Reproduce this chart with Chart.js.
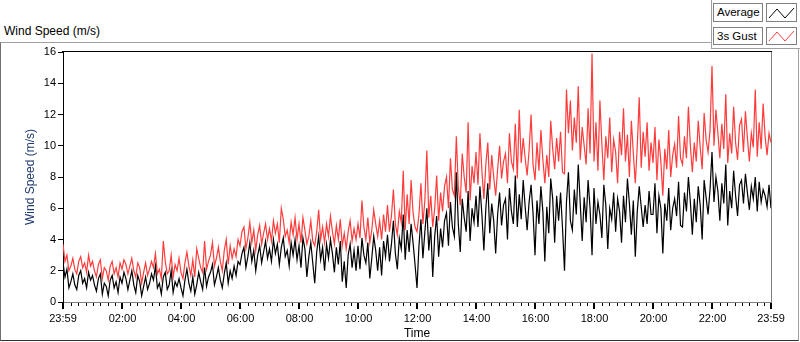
<!DOCTYPE html>
<html>
<head>
<meta charset="utf-8">
<script src="https://cdn.jsdelivr.net/npm/chart.js@4.4.1/dist/chart.umd.min.js"></script>
<style>
  body { margin: 0; background: #fff; font-family: "Liberation Sans", Arial, sans-serif; }
  #wrap { position: relative; width: 800px; height: 342px; overflow: hidden; }
  #panel { position: absolute; left: 0; top: 42px; width: 799px; height: 299px; box-sizing: border-box;
           border-top: 1px solid #a0a0a0; border-left: 1px solid #707070; border-bottom: 1px solid #303030; border-right: 1px solid #a0a0a0; }
  #title { position: absolute; left: 4px; top: 24px; font-size: 12px; line-height: 14px; color: #000; }
  #legendBg { position: absolute; left: 711px; top: 0; width: 89px; height: 49px; box-sizing: border-box; background: #fff;
              border-left: 1px solid #a0a0a0; border-bottom: 1px solid #a0a0a0; }
  .lbl { position: absolute; left: 713px; width: 50px; box-sizing: border-box; border: 1px solid #808080; background: #fff;
         font-size: 11.5px; padding-left: 3px; color: #000; }
  .sw { position: absolute; left: 766px; width: 31px; box-sizing: border-box; border: 1px solid #808080; background: #fff; }
  canvas { position: absolute; left: 0; top: 0; }
</style>
</head>
<body>
<div id="wrap">
  <div id="panel"></div>
  <div id="title">Wind Speed (m/s)</div>
  <canvas id="windChart" width="800" height="342"></canvas>
  <div id="legendBg"></div>
  <div class="lbl" style="top:3px;height:19px;line-height:17px;">Average</div>
  <div class="sw" style="top:3px;height:19px;">
    <svg width="29" height="17"><polyline points="2,14 10,5 18,14 27,4" fill="none" stroke="#000" stroke-width="1"/></svg>
  </div>
  <div class="lbl" style="top:27px;height:18px;line-height:16px;">3s Gust</div>
  <div class="sw" style="top:27px;height:18px;">
    <svg width="29" height="16"><polyline points="2,13 10,4 18,13 27,3" fill="none" stroke="#ff4040" stroke-width="1"/></svg>
  </div>
</div>
<script>
// one sample every 4 minutes, starting at 23:59 (15 per hour per row)
const stepMinutes = 4;
const seriesNames = ['Average', '3s Gust'];

const averageSpeed = [
  2.5, 1.6, 2.1, 0.9, 1.3, 1.8, 1.1, 0.8, 1.7, 2.0, 1.2, 1.5, 0.9, 1.9, 1.4,
  1.7, 1.1, 0.7, 1.5, 1.8, 0.5, 1.2, 1.0, 0.4, 1.4, 1.7, 0.9, 1.3, 0.6, 1.6,
  1.2, 1.9, 1.5, 0.8, 1.4, 2.0, 1.1, 0.6, 1.7, 1.3, 0.4, 1.0, 1.6, 0.8, 1.2,
  1.8, 1.4, 2.3, 0.9, 1.2, 0.5, 1.6, 1.9, 0.8, 1.1, 2.0, 0.6, 1.3, 1.0, 1.5,
  0.9, 0.4, 1.4, 2.1, 1.2, 0.7, 1.6, 0.5, 1.1, 1.9, 1.3, 0.8, 2.2, 1.0, 1.6,
  1.9, 2.4, 1.1, 1.6, 2.2, 1.4, 0.9, 1.8, 2.5, 1.2, 2.0, 1.5, 2.3, 1.7, 2.6,
  2.4, 3.1, 3.5, 2.2, 2.9, 3.8, 2.6, 3.3, 2.0, 3.0, 3.6, 2.5, 3.2, 3.9, 2.8,
  3.4, 2.6, 4.0, 3.1, 3.7, 2.4, 3.5, 4.1, 2.9, 3.3, 2.3, 3.8, 3.0, 4.0, 2.7,
  3.6, 2.2, 4.1, 3.4, 1.6, 2.9, 3.8, 2.5, 1.2, 3.2, 4.2, 2.7, 3.5, 2.0, 3.7,
  2.8, 4.0, 3.1, 1.9, 3.5, 2.4, 3.9, 1.3, 2.6, 0.9, 3.0, 3.7, 2.2, 3.3, 2.0,
  3.6, 2.1, 4.1, 3.0, 2.5, 3.8, 1.5, 2.8, 4.2, 3.3, 2.0, 3.5, 1.7, 3.9, 2.9,
  4.3, 2.6, 3.7, 5.2, 3.1, 2.1, 4.1, 3.4, 5.6, 2.7, 4.6, 3.2, 5.0, 3.8, 2.4,
  0.9, 3.6, 5.3, 2.8, 4.5, 6.0, 3.3, 4.8, 1.6, 4.2, 5.5, 2.9, 4.7, 3.5, 5.2,
  5.7, 3.6, 6.4, 4.8, 4.2, 8.3, 5.0, 3.2, 6.6, 5.4, 4.5, 7.1, 3.9, 6.0, 5.1,
  6.8, 4.8, 7.4, 5.6, 3.3, 6.0, 7.6, 4.4, 6.3, 5.2, 3.1, 5.6, 7.0, 4.9, 6.2,
  6.6, 4.0, 7.3, 5.8, 5.0, 8.1, 4.8, 6.9, 5.3, 7.8, 6.1, 4.6, 6.4, 7.5, 5.7,
  3.0, 6.5, 5.0, 7.4, 5.8, 2.6, 6.1, 4.4, 7.9, 6.6, 3.8, 6.8, 5.2, 7.0, 4.7,
  2.0, 6.4, 8.3, 5.2, 4.6, 7.2, 5.6, 8.8, 6.3, 3.9, 6.7, 5.1, 7.8, 6.0, 3.0,
  7.3, 5.0, 6.4, 5.6, 4.1, 7.5, 6.2, 3.4, 6.0, 5.3, 7.0, 4.5, 6.6, 5.8, 3.8,
  6.8, 5.1, 7.9, 6.3, 4.3, 6.5, 2.9, 5.8, 7.4, 6.1, 4.8, 6.2, 5.0, 7.1, 5.6,
  5.6, 7.6, 4.4, 6.8, 6.0, 3.1, 6.3, 5.2, 7.3, 4.6, 6.0, 6.6, 5.5, 7.7, 4.9,
  4.8, 7.0, 5.8, 8.0, 6.4, 4.3, 6.6, 5.1, 7.4, 6.2, 4.0, 7.8, 6.7, 5.6, 7.2,
  9.6, 6.4, 8.0, 7.1, 5.2, 7.6, 6.3, 8.8, 4.9, 7.1, 6.0, 8.4, 6.8, 5.5, 7.5,
  7.8, 6.3, 8.2, 7.0, 5.9, 7.4, 6.6, 8.0, 5.8, 7.7, 6.4, 7.2, 6.8, 6.1, 7.5,
  6.0
];

const gustSpeed = [
  3.7, 2.6, 3.0, 2.0, 2.3, 2.8, 2.1, 1.8, 2.6, 2.9, 2.2, 2.5, 1.9, 3.0, 2.3,
  2.6, 2.0, 1.6, 2.4, 2.7, 1.5, 2.2, 2.0, 1.4, 2.3, 2.6, 1.8, 2.2, 1.6, 2.5,
  2.1, 2.7, 2.4, 1.8, 2.3, 2.8, 2.0, 1.6, 2.5, 2.2, 1.2, 1.9, 2.5, 1.7, 2.1,
  2.6, 2.2, 3.1, 1.8, 2.1, 1.5, 3.9, 2.6, 1.8, 2.0, 3.0, 1.6, 2.4, 2.0, 2.8,
  1.9, 1.5, 2.5, 3.2, 2.3, 1.7, 2.7, 1.6, 3.4, 2.8, 2.2, 1.9, 3.9, 2.1, 2.6,
  3.0, 3.8, 2.3, 2.8, 3.5, 2.6, 2.0, 3.3, 4.0, 2.4, 3.6, 2.8, 3.4, 2.9, 4.0,
  3.6, 4.5, 4.8, 3.4, 4.1, 5.1, 3.8, 4.6, 3.3, 4.3, 4.9, 3.7, 4.4, 5.0, 4.0,
  4.7, 3.9, 5.2, 4.4, 5.0, 3.8, 6.0, 5.3, 4.2, 4.6, 3.8, 5.1, 4.3, 5.4, 4.0,
  5.0, 3.8, 5.4, 4.6, 3.7, 4.2, 5.2, 3.9, 3.6, 4.5, 5.9, 4.0, 4.8, 3.8, 5.0,
  4.2, 5.5, 4.5, 3.7, 4.9, 4.0, 5.3, 3.6, 4.4, 3.4, 4.5, 5.2, 3.9, 4.7, 4.0,
  5.0, 4.1, 6.5, 4.8, 4.0, 5.4, 3.8, 4.6, 5.9, 5.0, 4.2, 5.2, 4.0, 5.6, 4.5,
  6.2, 4.5, 5.5, 7.2, 5.0, 4.3, 5.8, 5.1, 8.4, 4.6, 6.9, 5.0, 7.8, 5.7, 4.8,
  4.5, 5.6, 7.6, 5.0, 6.5, 9.7, 5.4, 6.8, 4.8, 6.0, 8.1, 5.2, 7.0, 5.8, 7.4,
  8.0, 6.0, 9.2, 7.2, 6.8, 10.6, 7.3, 6.2, 9.5, 8.0, 7.0, 11.5, 6.5, 8.7, 7.6,
  9.6, 7.5, 10.8, 8.4, 6.6, 8.8, 10.2, 7.2, 9.4, 8.0, 6.8, 8.5, 10.0, 7.9, 9.0,
  9.5, 7.6, 10.8, 9.0, 8.5, 11.4, 7.9, 12.3, 8.9, 10.5, 9.2, 8.1, 9.7, 12.0, 8.8,
  7.8, 10.2, 8.4, 11.0, 9.1, 7.6, 9.4, 8.0, 11.6, 9.8, 8.5, 10.5, 9.0, 10.9, 8.3,
  8.2, 13.6, 10.8, 12.9, 9.7, 11.8, 10.2, 13.8, 9.1, 11.2, 10.0, 8.8, 12.4, 9.5, 15.9,
  9.0, 11.5, 8.4, 12.9, 10.1, 7.8, 10.6, 9.2, 11.8, 8.3, 10.4, 9.6, 7.6, 10.9, 9.4,
  12.4, 9.0, 10.7, 8.0, 11.6, 9.5, 7.6, 10.0, 13.1, 8.6, 10.9, 9.3, 11.5, 8.4, 10.2,
  8.9, 11.2, 7.8, 10.4, 9.0, 6.8, 9.8, 8.5, 11.0, 8.0, 9.4, 10.1, 8.6, 11.9, 9.2,
  8.8, 10.6, 9.2, 12.5, 10.0, 8.3, 10.2, 9.0, 11.6, 9.9, 8.5, 12.1, 10.4, 9.6, 11.0,
  15.1, 10.0, 12.3, 10.8, 9.2, 11.4, 9.8, 13.3, 8.9, 10.8, 9.5, 12.5, 10.2, 9.1, 11.3,
  11.7, 9.6, 12.2, 10.5, 9.0, 10.8, 9.9, 13.6, 9.3, 11.5, 9.8, 12.7, 10.6, 9.4, 10.8,
  10.2
];

const yTicks = [0, 2, 4, 6, 8, 10, 12, 14, 16];
const startClock = 23 * 60 + 59;   // 23:59

function clockLabel(t) {
  const m = (startClock + t) % 1440;
  const hh = String(Math.floor(m / 60)).padStart(2, '0');
  const mm = String(m % 60).padStart(2, '0');
  return hh + ':' + mm;
}
function isMajor(t) {
  return t === 0 || t === 1440 || (t - 1) % 120 === 0;
}

const toPoints = arr => arr.map((v, i) => ({ x: i * stepMinutes, y: v }));

// frame lines on top/right of the plot and x tick marks (long = labelled)
const framePlugin = {
  id: 'frame',
  afterDraw(chart) {
    const { ctx, chartArea: a, scales: { x } } = chart;
    ctx.save();
    ctx.lineWidth = 1;
    ctx.strokeStyle = '#000';
    ctx.beginPath();
    ctx.moveTo(a.left - 1, a.top - 0.5);
    ctx.lineTo(a.right + 1, a.top - 0.5);
    ctx.stroke();
    ctx.strokeStyle = '#808080';
    ctx.beginPath();
    ctx.moveTo(a.right + 0.5, a.top);
    ctx.lineTo(a.right + 0.5, a.bottom + 1);
    ctx.stroke();
    ctx.strokeStyle = '#000';
    x.ticks.forEach(t => {
      const px = Math.round(x.getPixelForValue(t.value));
      const major = isMajor(t.value);
      ctx.lineWidth = major ? 2 : 1;
      ctx.beginPath();
      ctx.moveTo(px + (major ? 0 : 0.5), a.bottom + 1);
      ctx.lineTo(px + (major ? 0 : 0.5), a.bottom + (major ? 7 : 4));
      ctx.stroke();
    });
    ctx.restore();
  }
};

new Chart(document.getElementById('windChart'), {
  type: 'line',
  data: {
    datasets: [
      { label: seriesNames[0], data: toPoints(averageSpeed), borderColor: '#000000', borderWidth: 1.2 },
      { label: seriesNames[1], data: toPoints(gustSpeed), borderColor: '#ff3c3c', borderWidth: 1.2 }
    ]
  },
  options: {
    responsive: false,
    animation: false,
    events: [],
    elements: { point: { radius: 0 }, line: { tension: 0 } },
    layout: { padding: { left: 0, top: 52, right: 29, bottom: 0 } },
    plugins: { legend: { display: false }, tooltip: { enabled: false } },
    scales: {
      x: {
        type: 'linear',
        min: 0,
        max: (averageSpeed.length - 1) * stepMinutes,
        afterFit: s => { s.height = 40; },
        afterBuildTicks: s => {
          const list = [{ value: 0 }];
          for (let t = 16; t < 1440; t += 15) list.push({ value: t });
          list.push({ value: 1440 });
          s.ticks = list;
        },
        grid: { display: false },
        border: { display: true, color: '#808080', width: 1 },
        ticks: {
          autoSkip: false,
          maxRotation: 0,
          padding: 2,
          color: '#000',
          font: { family: 'Liberation Sans', size: 11 },
          callback: v => isMajor(v) ? clockLabel(v) : ''
        },
        title: {
          display: true,
          text: 'Time',
          color: '#000',
          font: { family: 'Liberation Sans', size: 12 },
          padding: { top: 0, bottom: 1 }
        }
      },
      y: {
        min: 0,
        max: 16,
        afterFit: s => { s.width = 63; },
        afterBuildTicks: s => { s.ticks = yTicks.map(v => ({ value: v })); },
        grid: { drawOnChartArea: false, drawTicks: true, tickLength: 5, color: '#000' },
        border: { display: true, color: '#000', width: 1 },
        ticks: {
          padding: 2,
          color: '#000',
          font: { family: 'Liberation Sans', size: 11 }
        },
        title: {
          display: true,
          text: 'Wind Speed (m/s)',
          color: '#1f3a6e',
          font: { family: 'Liberation Sans', size: 12 },
          padding: { top: 23, bottom: 0 }
        }
      }
    }
  },
  plugins: [framePlugin]
});
</script>
</body>
</html>
